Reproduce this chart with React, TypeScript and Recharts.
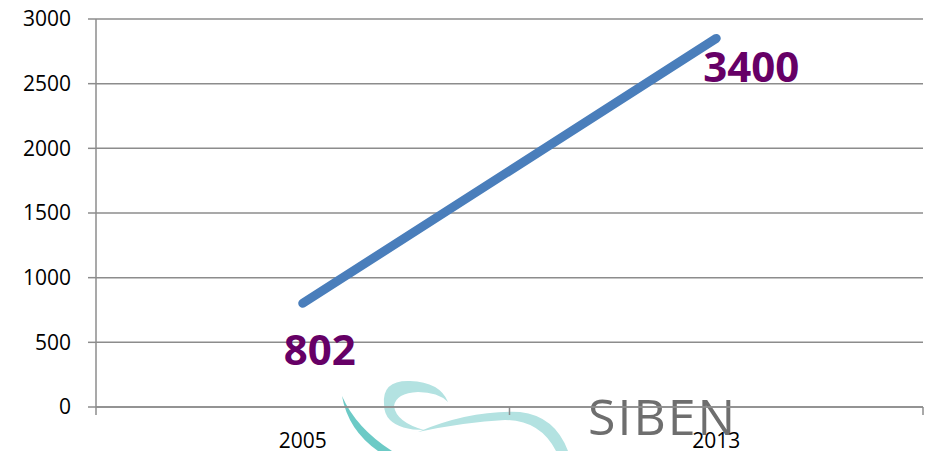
import { LineChart, Line, XAxis, YAxis, CartesianGrid, LabelList } from "recharts"

const years = ["2005", "2013"]
const values = [802, 2850]
const labels = ["802", "3400"]
const yTicks = [0, 500, 1000, 1500, 2000, 2500, 3000]

const data = years.map((year, i) => ({ year, value: values[i], label: labels[i] }))

// label placement relative to each point
const labelOffsets = [
  { dx: 17, dy: 62 },
  { dx: 35, dy: 44 },
]

const GRID = "#8c8c8c"
const FONT = "'Open Sans', 'Noto Sans', sans-serif"
const PLOT_W = 930 - 96 - 7

function YearTick(props: any) {
  const { x, y, payload, index } = props
  const half = PLOT_W / years.length / 2
  const axisY = 407
  return (
    <g>
      <line x1={x - half} x2={x - half} y1={axisY} y2={axisY + 8} stroke={GRID} strokeWidth={1.5} />
      {index === years.length - 1 && (
        <line x1={x + half} x2={x + half} y1={axisY} y2={axisY + 8} stroke={GRID} strokeWidth={1.5} />
      )}
      <text x={x} y={y + 33} textAnchor="middle" fontSize={21} fill="#000" fontFamily={FONT}>
        {payload.value}
      </text>
    </g>
  )
}

function PointLabel(props: any) {
  const { x, y, index } = props
  const off = labelOffsets[index] || { dx: 0, dy: 0 }
  return (
    <text
      x={x + off.dx}
      y={y + off.dy}
      textAnchor="middle"
      fontSize={42}
      fontWeight={700}
      fill="#660066"
      fontFamily={FONT}
    >
      {labels[index]}
    </text>
  )
}

function Watermark() {
  return (
    <svg width={930} height={451} style={{ position: "absolute", left: 0, top: 0 }}>
      <path d="M342 396 Q348 430 378 451 L392 451 Q356 428 342 396 Z" fill="#5cc4c0" opacity={0.9} />
      <path
        d="M384 404 Q382 380 410 381 Q440 382 448 402 Q438 392 418 392 Q396 393 394 406 Q396 422 424 430 Q400 430 390 420 Q384 414 384 404 Z"
        fill="#b3e2e1"
      />
      <path d="M418 432 Q470 410 520 412 Q555 416 568 451 L556 451 Q540 420 505 420 Q465 422 418 432 Z" fill="#b3e2e1" />
      <text x={588} y={435} fontSize={50} fill="#6e6e6e" fontFamily="'Open Sans', sans-serif" letterSpacing={2}>
        SIBEN
      </text>
    </svg>
  )
}

export default function App() {
  return (
    <div style={{ position: "absolute", left: 0, top: 0, width: 930, height: 451, background: "#fff" }}>
      <Watermark />
      <div style={{ position: "absolute", left: 0, top: 0 }}>
        <LineChart width={930} height={451} data={data} margin={{ top: 19, right: 7, bottom: 0, left: 0 }}>
          <CartesianGrid vertical={false} stroke={GRID} strokeWidth={1.5} />
          <XAxis
            dataKey="year"
            scale="band"
            height={44}
            axisLine={{ stroke: GRID, strokeWidth: 1.5 }}
            tickLine={false}
            tick={<YearTick />}
            interval={0}
          />
          <YAxis
            width={96}
            domain={[0, 3000]}
            ticks={yTicks}
            axisLine={{ stroke: GRID, strokeWidth: 1.5 }}
            tickLine={{ stroke: GRID, strokeWidth: 1.5 }}
            tickSize={8}
            tickMargin={17}
            tick={{ fontSize: 21, fill: "#000", fontFamily: FONT }}
          />
          <Line
            dataKey="value"
            stroke="#4a7ebb"
            strokeWidth={9}
            strokeLinecap="round"
            dot={false}
            activeDot={false}
            isAnimationActive={false}
          >
            <LabelList dataKey="label" content={<PointLabel />} />
          </Line>
        </LineChart>
      </div>
    </div>
  )
}
